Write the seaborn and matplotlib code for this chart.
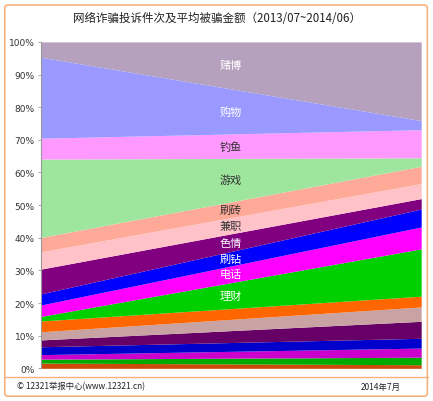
import numpy as np
import matplotlib
matplotlib.use("Agg")
import matplotlib.pyplot as plt
import seaborn as sns
from matplotlib.patches import FancyBboxPatch
from matplotlib.lines import Line2D

sns.set_theme(style="white")
plt.rcParams['font.family'] = ['Noto Sans CJK SC', 'DejaVu Sans']

# layers from bottom to top; unlabeled bands have an empty name
layers = ['', '', '', '', '', '', '', '理财', '电话', '刷钻', '色情', '兼职', '刷砖', '游戏', '钓鱼', '购物', '赌博']
# share (%) of complaints (left) and of average loss (right)
share_left = [1.6, 1.2, 1.4, 2.4, 2.1, 2.5, 3.3, 1.4, 3.5, 3.4, 7.6, 5.3, 4.4, 24.0, 6.4, 24.8, 4.7]
share_right = [1.1, 2.3, 2.8, 3.0, 5.2, 4.4, 3.3, 14.5, 6.7, 5.5, 3.2, 4.6, 5.3, 2.6, 8.6, 2.8, 24.1]
colors = ['#CC4A0A', '#00AA00', '#CC00CC', '#0000CC', '#660066', '#C9A3A3', '#FF6600',
          '#00D000', '#FF00FF', '#0000FF', '#800080', '#FFC2C8', '#FFAA98', '#9EE69E',
          '#FF99FF', '#9999FF', '#B5A0BE']
dark_text = ['钓鱼', '游戏', '刷砖', '兼职']

title = '网络诈骗投诉件次及平均被骗金额（2013/07~2014/06）'
yticks = np.arange(0, 101, 10)

fig = plt.figure(figsize=(4.33, 4.02), dpi=100)
ax = fig.add_axes([0.0947, 0.0813, 0.878, 0.812])

x = [0, 1]
ys = [[l, r] for l, r in zip(share_left, share_right)]
ax.stackplot(x, *ys, colors=colors, linewidth=0)

# band labels at the middle of each band
mid = (np.array(share_left) + np.array(share_right)) / 2
cum = np.cumsum(mid) - mid / 2
for name, yv in zip(layers, cum):
    if not name:
        continue
    c = '#333333' if name in dark_text else 'white'
    ax.text(0.5, yv, name, ha='center', va='center', fontsize=8,
            fontweight='medium', color=c)

ax.set_xlim(0, 1)
ax.set_ylim(0, 100)
ax.set_xticks([])
ax.set_yticks(yticks)
ax.set_yticklabels([f'{v}%' for v in yticks], fontsize=6.5, color='#333333',
                   family=['DejaVu Sans'])
ax.tick_params(axis='y', length=2.5, width=0.6, color='#999999', pad=2, left=True)
for s in ['top', 'right', 'bottom']:
    ax.spines[s].set_visible(False)
ax.spines['left'].set_color('#999999')
ax.spines['left'].set_linewidth(0.8)

fig.text(0.5, 0.953, title, ha='center', va='center', fontsize=8.3, color='#222222')

# outer frame and footer
border = '#F6B27E'
fig.add_artist(FancyBboxPatch((0.011, 0.012), 0.976, 0.973, transform=fig.transFigure,
                              boxstyle='round,pad=0,rounding_size=0.008',
                              fill=False, edgecolor=border, linewidth=1.2))
fig.add_artist(Line2D([0.009, 0.989], [0.06, 0.06], transform=fig.transFigure,
                      color=border, linewidth=1.0))
fig.text(0.04, 0.037, '© 12321举报中心(www.12321.cn)', fontsize=6, va='center', color='#222222')
fig.text(0.925, 0.037, '2014年7月', fontsize=6, va='center', ha='right', color='#222222')

fig.savefig('out.png', dpi=100)
